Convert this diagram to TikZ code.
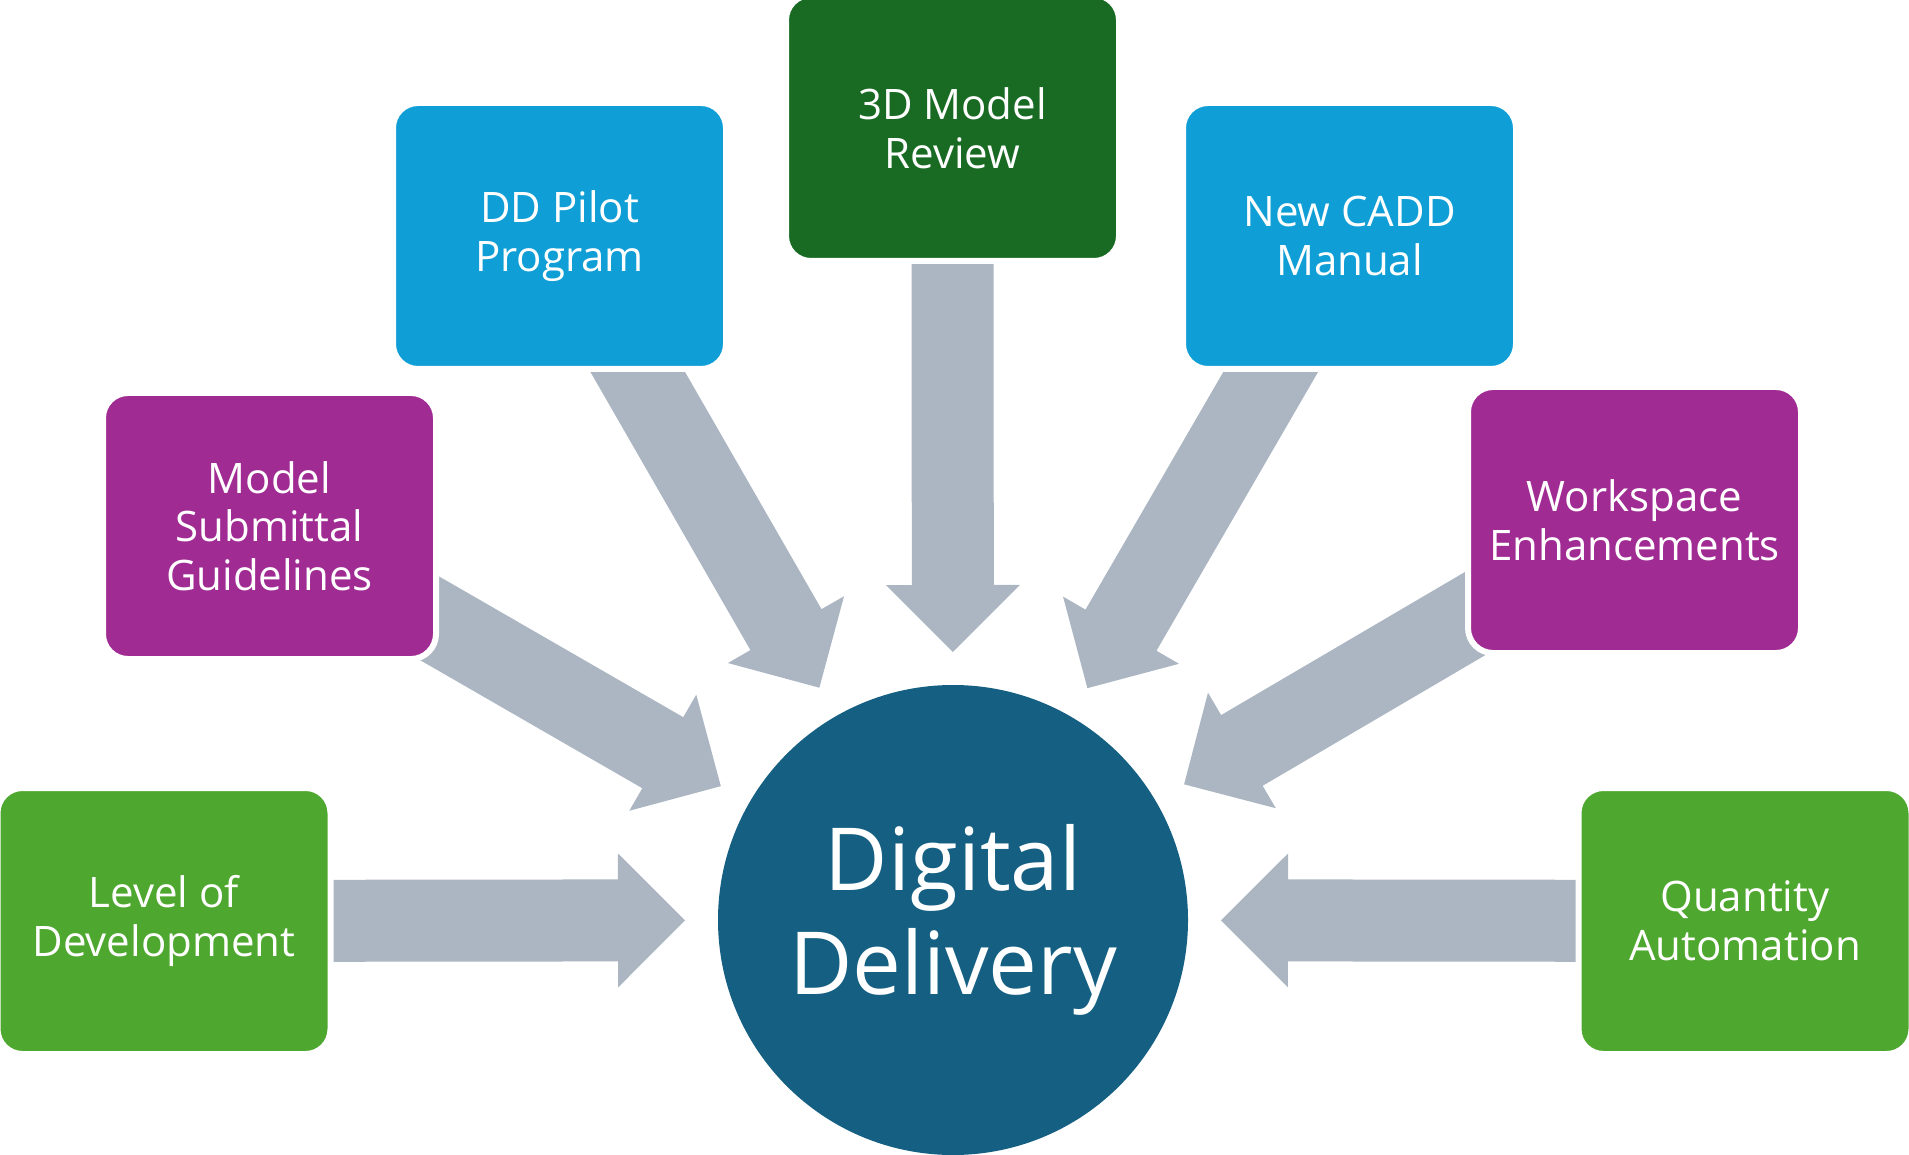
\documentclass[tikz,border=0pt]{standalone}
\usepackage{fontspec}
\setmainfont{Open Sans}
\usetikzlibrary{calc,backgrounds}
\definecolor{hubblue}{HTML}{156082}
\definecolor{leafgreen}{HTML}{4EA72E}
\definecolor{darkgreen}{HTML}{196B24}
\definecolor{plum}{HTML}{A02B93}
\definecolor{skyblue}{HTML}{0F9ED5}
\definecolor{arrowgray}{HTML}{ABB6C2}
\tikzset{
  topicbox/.style = {rectangle, rounded corners=25pt, draw=white, line width=6pt, minimum width=333pt, minimum height=266pt, inner sep=0pt, text=white, align=center, font=\fontsize{42}{48.7}\selectfont},
  hub/.style = {circle, fill=hubblue, minimum size=470pt, inner sep=0pt, text=white, align=center, font=\fontsize{87}{103.5}\selectfont},
  feedarrow/.style = {fill=arrowgray},
}
% block arrow from a topic box towards the hub
\newcommand{\feed}[2]{%
  \path let \p1=($(#1.center)-(#2.center)$) in
    \pgfextra{\pgfmathparse{atan2(\y1,\x1)}\xdef\feedangle{\pgfmathresult}%
              \pgfmathparse{veclen(\x1,\y1)}\xdef\feedlen{\pgfmathresult}};
  \fill[feedarrow, shift={(#2.center)}, rotate=\feedangle]
    (268,0) -- (335,67) -- (335,41) -- (\feedlen,41) -- (\feedlen,-41)
    -- (335,-41) -- (335,-67) -- cycle;}

\begin{document}
\begin{tikzpicture}[x=1pt, y=-1pt]
\useasboundingbox (0,0) rectangle (1909,1155);

% Hub
\node[hub] (hub) at (953,920) {Digital\\Delivery};

% Left side
\node[topicbox, fill=leafgreen] (lod) at (164,921) {Level of\\Development};
\node[topicbox, fill=plum] (msg) at (269.5,526) {Model\\Submittal\\Guidelines};
\node[topicbox, fill=skyblue] (pilot) at (559.5,236) {DD Pilot\\Program};

% Top
\node[topicbox, fill=darkgreen] (review) at (952.5,128) {3D Model\\Review};

% Right side
\node[topicbox, fill=skyblue] (cadd) at (1349.5,236) {New CADD\\Manual};
\node[topicbox, fill=plum] (workspace) at (1634.5,520) {Workspace\\Enhancements};
\node[topicbox, fill=leafgreen] (quantity) at (1745,921) {Quantity\\Automation};

% Arrows under the boxes
\begin{pgfonlayer}{background}
  \feed{lod}{hub}
  \feed{msg}{hub}
  \feed{pilot}{hub}
  \feed{review}{hub}
  \feed{cadd}{hub}
  \feed{workspace}{hub}
  \feed{quantity}{hub}
\end{pgfonlayer}

\end{tikzpicture}
\end{document}
